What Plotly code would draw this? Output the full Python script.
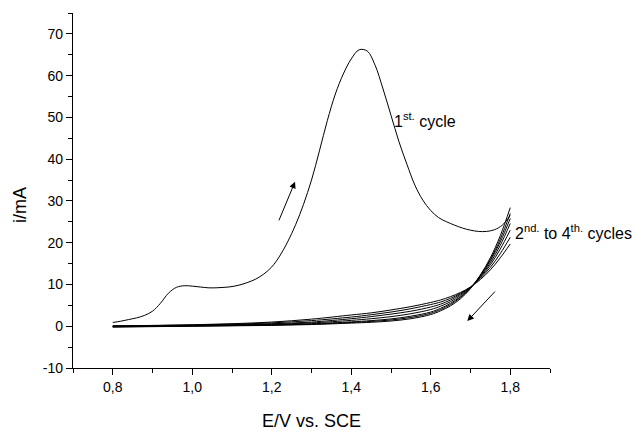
import plotly.graph_objects as go

# ---- data ----
E_FIRST = [0.80, 0.82, 0.84, 0.86, 0.88, 0.90, 0.92, 0.94, 0.96, 0.98,
           1.00, 1.02, 1.04, 1.06, 1.08, 1.10, 1.12, 1.14, 1.16, 1.18,
           1.20, 1.22, 1.24, 1.26, 1.28, 1.30, 1.32, 1.34, 1.36, 1.38,
           1.40, 1.42, 1.44, 1.46, 1.48, 1.50, 1.52, 1.54, 1.56, 1.58,
           1.60, 1.62, 1.64, 1.66, 1.68, 1.70, 1.72, 1.74, 1.76, 1.78, 1.80]
I_FIRST = [0.9, 1.2, 1.6, 2.0, 2.6, 3.6, 5.5, 7.9, 9.3, 9.7,
           9.6, 9.4, 9.2, 9.2, 9.3, 9.5, 9.9, 10.5, 11.3, 12.5,
           14.2, 16.8, 20.2, 24.3, 29.2, 35.0, 42.0, 49.3, 55.6, 60.4,
           64.0, 66.2, 65.9, 62.5, 56.8, 50.5, 44.2, 38.8, 33.8, 30.2,
           27.7, 26.0, 25.0, 24.2, 23.5, 23.0, 22.7, 22.7, 23.1, 24.2, 26.5]

E_BUNDLE = [0.80, 0.90, 1.00, 1.10, 1.20, 1.30, 1.40, 1.45, 1.50, 1.55,
            1.60, 1.625, 1.65, 1.675, 1.70, 1.725, 1.75, 1.775, 1.80]
I_FWD_2 = [-0.2, -0.1, 0.0, 0.1, 0.2, 0.4, 0.75, 0.95, 1.25, 1.8, 2.8, 3.7, 4.9, 6.6, 9.0, 12.3, 16.4, 21.7, 28.4]
I_FWD_3 = [-0.15, -0.05, 0.05, 0.15, 0.3, 0.5, 0.9, 1.15, 1.5, 2.1, 3.1, 4.0, 5.2, 6.9, 9.1, 12.2, 16.0, 20.9, 27.0]
I_FWD_4 = [-0.1, 0.0, 0.1, 0.2, 0.35, 0.6, 1.05, 1.35, 1.75, 2.4, 3.4, 4.3, 5.5, 7.1, 9.2, 12.1, 15.7, 20.2, 25.8]
I_REV_4 = [-0.05, 0.05, 0.15, 0.3, 0.45, 0.8, 1.4, 1.8, 2.3, 3.0, 4.0, 4.8, 5.9, 7.4, 9.3, 11.9, 15.2, 19.4, 24.6]
I_REV_3 = [0.0, 0.1, 0.2, 0.35, 0.6, 1.0, 1.8, 2.3, 2.9, 3.6, 4.6, 5.3, 6.3, 7.7, 9.3, 11.7, 14.7, 18.5, 23.0]
I_REV_2 = [0.05, 0.15, 0.3, 0.5, 0.8, 1.35, 2.2, 2.75, 3.4, 4.2, 5.2, 5.8, 6.7, 7.9, 9.35, 11.5, 14.1, 17.4, 21.3]
I_REV_1 = [0.1, 0.2, 0.35, 0.6, 1.0, 1.7, 2.7, 3.2, 3.9, 4.7, 5.7, 6.3, 7.1, 8.1, 9.4, 11.2, 13.5, 16.4, 19.7]
BUNDLE = [I_FWD_2, I_FWD_3, I_FWD_4, I_REV_4, I_REV_3, I_REV_2, I_REV_1]

X_TICKS = [0.8, 1.0, 1.2, 1.4, 1.6, 1.8]
X_LABELS = ["0,8", "1,0", "1,2", "1,4", "1,6", "1,8"]
X_MINOR = [0.7, 0.9, 1.1, 1.3, 1.5, 1.7, 1.9]
Y_TICKS = [-10, 0, 10, 20, 30, 40, 50, 60, 70]
Y_LABELS = ["-10", "0", "10", "20", "30", "40", "50", "60", "70"]
Y_MINOR = [-5, 5, 15, 25, 35, 45, 55, 65, 75]

FONT = "Liberation Sans, Arial, sans-serif"

fig = go.Figure()
for ys in BUNDLE:
    fig.add_trace(go.Scatter(x=E_BUNDLE, y=ys, mode="lines",
                             line=dict(color="black", width=1, shape="spline", smoothing=1.0),
                             showlegend=False, hoverinfo="skip"))
fig.add_trace(go.Scatter(x=E_FIRST, y=I_FIRST, mode="lines",
                         line=dict(color="black", width=1, shape="spline", smoothing=1.0),
                         showlegend=False))

axis_common = dict(showgrid=False, zeroline=False, showline=True, linecolor="black",
                   linewidth=1.3, ticks="outside", ticklen=6, tickwidth=1.2, tickcolor="black",
                   tickfont=dict(family=FONT, size=14, color="black"), mirror=False)
fig.update_xaxes(range=[0.7, 1.9], tickmode="array", tickvals=X_TICKS, ticktext=X_LABELS,
                 minor=dict(tickmode="array", tickvals=X_MINOR, ticks="outside", ticklen=4,
                            tickwidth=1.2, tickcolor="black", showgrid=False),
                 **axis_common)
fig.update_yaxes(range=[-10, 75], tickmode="array", tickvals=Y_TICKS, ticktext=Y_LABELS,
                 minor=dict(tickmode="array", tickvals=Y_MINOR, ticks="outside", ticklen=4,
                            tickwidth=1.2, tickcolor="black", showgrid=False),
                 **axis_common)

annotations = [
    dict(text="E/V vs. SCE", xref="paper", yref="paper", x=0.5, y=-0.149,
         xanchor="center", yanchor="middle", showarrow=False,
         font=dict(family=FONT, size=18, color="black")),
    dict(text="i/mA", xref="paper", yref="paper", x=-0.1124, y=0.46, textangle=-90,
         xanchor="center", yanchor="middle", showarrow=False,
         font=dict(family=FONT, size=18, color="black")),
    dict(text="1<sup>st.</sup> cycle", xref="x", yref="y", x=1.502, y=49.3,
         xanchor="left", yanchor="middle", showarrow=False,
         font=dict(family=FONT, size=16, color="black")),
    dict(text="2<sup>nd.</sup> to 4<sup>th.</sup> cycles", xref="x", yref="y", x=1.806, y=22.6,
         xanchor="left", yanchor="middle", showarrow=False,
         font=dict(family=FONT, size=16, color="black")),
    # arrows
    dict(x=1.2586, y=34.6, ax=1.2166, ay=25.0, xref="x", yref="y", axref="x", ayref="y",
         text="", showarrow=True, arrowhead=2, arrowsize=1.3, arrowwidth=1, arrowcolor="black"),
    dict(x=1.692, y=1.24, ax=1.765, ay=8.66, xref="x", yref="y", axref="x", ayref="y",
         text="", showarrow=True, arrowhead=2, arrowsize=1.3, arrowwidth=1, arrowcolor="black"),
]

fig.update_layout(width=636, height=431, margin=dict(l=73, r=86, t=13, b=63),
                  paper_bgcolor="white", plot_bgcolor="white", annotations=annotations,
                  font=dict(family=FONT, color="black"))

fig.write_html("out.html")
